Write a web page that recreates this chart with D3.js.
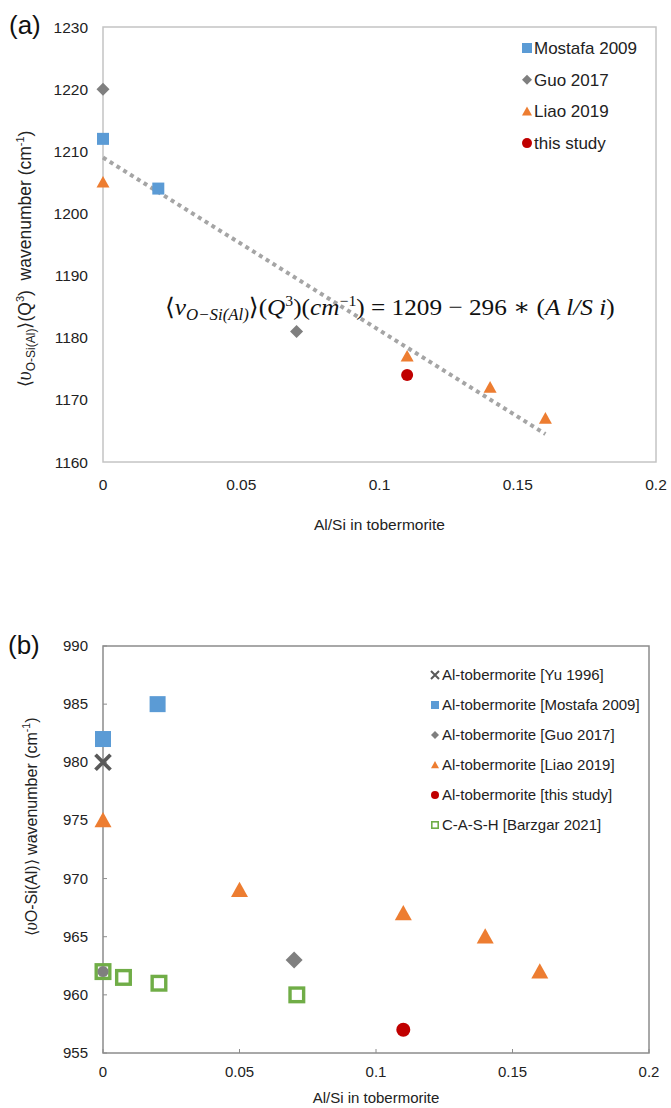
<!DOCTYPE html>
<html>
<head>
<meta charset="utf-8">
<script src="https://cdn.jsdelivr.net/npm/d3@7"></script>
<style>
  body { margin: 0; background: #fff; }
  svg { display: block; font-family: 'Liberation Sans', Arial, sans-serif; }
</style>
</head>
<body>
<svg id="chart" width="671" height="1108"></svg>
<script>
// ---- data, panel (a)
const aTicksX = [0, 0.05, 0.1, 0.15, 0.2]
const aTicksY = [1160, 1170, 1180, 1190, 1200, 1210, 1220, 1230]
const aMostafaX = [0, 0.02]
const aMostafaY = [1212, 1204]
const aGuoX = [0, 0.07]
const aGuoY = [1220, 1181]
const aLiaoX = [0, 0.11, 0.14, 0.16]
const aLiaoY = [1205, 1177, 1172, 1167]
const aThisX = [0.11]
const aThisY = [1174]
const aTrendX = [0, 0.16]
const aTrendY = [1209, 1164.5]

// ---- data, panel (b)
const bTicksX = [0, 0.05, 0.1, 0.15, 0.2]
const bTicksY = [955, 960, 965, 970, 975, 980, 985, 990]
const bYuX = [0]
const bYuY = [980]
const bMostafaX = [0, 0.02]
const bMostafaY = [982, 985]
const bGuoX = [0.07]
const bGuoY = [963]
const bGuoZeroX = [0]
const bGuoZeroY = [962]
const bLiaoX = [0, 0.05, 0.11, 0.14, 0.16]
const bLiaoY = [975, 969, 967, 965, 962]
const bThisX = [0.11]
const bThisY = [957]
const bBarzgarX = [0, 0.0075, 0.0205, 0.071]
const bBarzgarY = [962, 961.5, 961, 960]

const zip = (xs, ys) => xs.map((x, i) => ({ x: x, y: ys[i] }))
const fmtX = d => d === 0 ? '0' : String(+d.toFixed(2))

const svg = d3.select('#chart')

// marker drawing
const marker = function (g, kind, size, color) {
  if (kind === 'square') {
    g.append('rect').attr('x', -size / 2).attr('y', -size / 2)
      .attr('width', size).attr('height', size).attr('fill', color)
  } else if (kind === 'diamond') {
    let s = size / Math.SQRT2
    g.append('rect').attr('x', -s / 2).attr('y', -s / 2)
      .attr('width', s).attr('height', s).attr('fill', color)
      .attr('transform', 'rotate(45)')
  } else if (kind === 'triangle') {
    let h = size * 0.9
    g.append('path').attr('d', `M0,${-h * 0.55}L${size / 2},${h * 0.45}L${-size / 2},${h * 0.45}Z`)
      .attr('fill', color)
  } else if (kind === 'circle') {
    g.append('circle').attr('r', size / 2).attr('fill', color)
  } else if (kind === 'x') {
    let r = size / 2
    g.append('path').attr('d', `M${-r},${-r}L${r},${r}M${r},${-r}L${-r},${r}`)
      .attr('stroke', color).attr('stroke-width', size / 4).attr('fill', 'none')
  } else if (kind === 'open') {
    let sw = size / 5
    g.append('rect').attr('x', -(size - sw) / 2).attr('y', -(size - sw) / 2)
      .attr('width', size - sw).attr('height', size - sw)
      .attr('fill', '#fff').attr('stroke', color).attr('stroke-width', sw)
  }
}

const drawPoints = function (g, pts, x, y, kind, size, color) {
  g.selectAll(null).data(pts).enter().append('g')
    .attr('transform', d => `translate(${x(d.x)},${y(d.y)})`)
    .each(function () { marker(d3.select(this), kind, size, color) })
}

// ================= panel (a)
{
  const left = 103, right = 656, top = 27, bottom = 462
  const x = d3.scaleLinear().domain([0, 0.2]).range([left, right])
  const y = d3.scaleLinear().domain([1160, 1230]).range([bottom, top])
  const g = svg.append('g')

  g.append('rect').attr('x', left).attr('y', top)
    .attr('width', right - left).attr('height', bottom - top)
    .attr('fill', 'none').attr('stroke', '#c4c4c4').attr('stroke-width', 1.5)

  g.selectAll('.yt').data(aTicksY).enter().append('text')
    .attr('x', 88).attr('y', d => y(d) + 5.5)
    .attr('text-anchor', 'end').attr('font-size', 15.5).attr('fill', '#222')
    .text(d => d)
  g.selectAll('.xt').data(aTicksX).enter().append('text')
    .attr('x', d => x(d)).attr('y', 490)
    .attr('text-anchor', 'middle').attr('font-size', 15.5).attr('fill', '#222')
    .text(fmtX)

  g.append('text').attr('x', (left + right) / 2).attr('y', 530)
    .attr('text-anchor', 'middle').attr('font-size', 15.5).attr('fill', '#222')
    .text('Al/Si in tobermorite')

  g.append('text').attr('x', 9).attr('y', 34).attr('font-size', 26).attr('fill', '#111').text('(a)')

  // y label
  const yl = g.append('text').attr('transform', 'translate(31,259) rotate(-90)')
    .attr('text-anchor', 'middle').attr('font-size', 17.5).attr('fill', '#222')
  yl.append('tspan').text('\u27E8')
  yl.append('tspan').attr('font-family', 'Liberation Serif').attr('font-style', 'italic').attr('font-size', 20).text('\u03C5')
  yl.append('tspan').attr('font-size', 12).attr('dy', 4).text('O-Si(Al)')
  yl.append('tspan').attr('dy', -4).text('\u27E9(Q')
  yl.append('tspan').attr('font-size', 11).attr('dy', -7).text('3')
  yl.append('tspan').attr('dy', 7).text(')\u00A0\u00A0wavenumber (cm')
  yl.append('tspan').attr('font-size', 11).attr('dy', -7).text('-1')
  yl.append('tspan').attr('dy', 7).text(')')

  // trendline
  g.append('path')
    .datum(zip(aTrendX, aTrendY))
    .attr('d', d3.line().x(d => x(d.x)).y(d => y(d.y)))
    .attr('stroke', '#a5a5a5').attr('stroke-width', 4)
    .attr('stroke-dasharray', '4,4').attr('fill', 'none')

  drawPoints(g, zip(aGuoX, aGuoY), x, y, 'diamond', 13, '#7f7f7f')
  drawPoints(g, zip(aMostafaX, aMostafaY), x, y, 'square', 12, '#5b9bd5')
  drawPoints(g, zip(aLiaoX, aLiaoY), x, y, 'triangle', 13, '#ed7d31')
  drawPoints(g, zip(aThisX, aThisY), x, y, 'circle', 12, '#c00000')

  // equation
  const eq = g.append('text').attr('x', 165).attr('y', 315)
    .attr('font-family', 'Liberation Serif, DejaVu Serif, serif').attr('font-size', 24).attr('fill', '#111')
  const it = s => eq.append('tspan').attr('font-style', 'italic').text(s)
  eq.append('tspan').text('\u27E8')
  it('v')
  eq.append('tspan').attr('font-style', 'italic').attr('font-size', 16).attr('dy', 5).text('O\u2212Si(Al)')
  eq.append('tspan').attr('dy', -5).text('\u27E9(')
  it('Q')
  eq.append('tspan').attr('font-size', 15).attr('dy', -9).text('3')
  eq.append('tspan').attr('dy', 9).text(')(')
  it('cm')
  eq.append('tspan').attr('font-size', 15).attr('dy', -9).text('\u22121')
  eq.append('tspan').attr('dy', 9).text(') = 1209 \u2212 296 \u2217 (')
  it('A l/S i')
  eq.append('tspan').text(')')
  const L = eq.node().getComputedTextLength()
  eq.attr('transform', `translate(165,315) scale(${450 / L},1) translate(-165,-315)`)

  // legend
  const legA = [
    { label: 'Mostafa 2009', kind: 'square', size: 10, color: '#5b9bd5' },
    { label: 'Guo 2017', kind: 'diamond', size: 10, color: '#7f7f7f' },
    { label: 'Liao 2019', kind: 'triangle', size: 10, color: '#ed7d31' },
    { label: 'this study', kind: 'circle', size: 10, color: '#c00000' }
  ]
  const lg = g.selectAll('.la').data(legA).enter().append('g')
    .attr('transform', (d, i) => `translate(527,${48 + i * 31.7})`)
  lg.each(function (d) { marker(d3.select(this), d.kind, d.size, d.color) })
  lg.append('text').attr('x', 7).attr('y', 6).attr('font-size', 17).attr('fill', '#222').text(d => d.label)
}

// ================= panel (b)
{
  const left = 103, right = 649, top = 646, bottom = 1053
  const x = d3.scaleLinear().domain([0, 0.2]).range([left, right])
  const y = d3.scaleLinear().domain([955, 990]).range([bottom, top])
  const g = svg.append('g')

  g.append('rect').attr('x', left).attr('y', top)
    .attr('width', right - left).attr('height', bottom - top)
    .attr('fill', 'none').attr('stroke', '#8c8c8c').attr('stroke-width', 1.5)

  g.selectAll('.ytk').data(bTicksY).enter().append('line')
    .attr('x1', left).attr('x2', left + 4).attr('y1', d => y(d)).attr('y2', d => y(d))
    .attr('stroke', '#8c8c8c').attr('stroke-width', 1)
  g.selectAll('.xtk').data(bTicksX).enter().append('line')
    .attr('x1', d => x(d)).attr('x2', d => x(d)).attr('y1', bottom).attr('y2', bottom - 4)
    .attr('stroke', '#8c8c8c').attr('stroke-width', 1)

  g.selectAll('.yt').data(bTicksY).enter().append('text')
    .attr('x', 88).attr('y', d => y(d) + 5)
    .attr('text-anchor', 'end').attr('font-size', 15).attr('fill', '#222')
    .text(d => d)
  g.selectAll('.xt').data(bTicksX).enter().append('text')
    .attr('x', d => x(d)).attr('y', 1077)
    .attr('text-anchor', 'middle').attr('font-size', 15).attr('fill', '#222')
    .text(fmtX)

  g.append('text').attr('x', (left + right) / 2).attr('y', 1103)
    .attr('text-anchor', 'middle').attr('font-size', 15).attr('fill', '#222')
    .text('Al/Si in tobermorite')

  g.append('text').attr('x', 8).attr('y', 654).attr('font-size', 26).attr('fill', '#111').text('(b)')

  const yl = g.append('text').attr('transform', 'translate(37,827) rotate(-90)')
    .attr('text-anchor', 'middle').attr('font-size', 16).attr('fill', '#222')
  yl.append('tspan').text('\u27E8')
  yl.append('tspan').attr('font-family', 'Liberation Serif').attr('font-style', 'italic').attr('font-size', 18).text('\u03C5')
  yl.append('tspan').text('O-Si(Al)\u27E9 wavenumber (cm')
  yl.append('tspan').attr('font-size', 10.5).attr('dy', -7).text('-1')
  yl.append('tspan').attr('dy', 7).text(')')

  drawPoints(g, zip(bBarzgarX, bBarzgarY), x, y, 'open', 17, '#70ad47')
  drawPoints(g, zip(bGuoZeroX, bGuoZeroY), x, y, 'circle', 11, '#7f7f7f')
  drawPoints(g, zip(bGuoX, bGuoY), x, y, 'diamond', 17, '#7f7f7f')
  drawPoints(g, zip(bMostafaX, bMostafaY), x, y, 'square', 16, '#5b9bd5')
  drawPoints(g, zip(bYuX, bYuY), x, y, 'x', 15, '#595959')
  drawPoints(g, zip(bLiaoX, bLiaoY), x, y, 'triangle', 17, '#ed7d31')
  drawPoints(g, zip(bThisX, bThisY), x, y, 'circle', 14, '#c00000')

  const legB = [
    { label: 'Al-tobermorite [Yu 1996]', kind: 'x', size: 8, color: '#595959' },
    { label: 'Al-tobermorite [Mostafa 2009]', kind: 'square', size: 8, color: '#5b9bd5' },
    { label: 'Al-tobermorite [Guo 2017]', kind: 'diamond', size: 8, color: '#7f7f7f' },
    { label: 'Al-tobermorite [Liao 2019]', kind: 'triangle', size: 8, color: '#ed7d31' },
    { label: 'Al-tobermorite [this study]', kind: 'circle', size: 8, color: '#c00000' },
    { label: 'C-A-S-H [Barzgar 2021]', kind: 'open', size: 8, color: '#70ad47' }
  ]
  const lg = g.selectAll('.lb').data(legB).enter().append('g')
    .attr('transform', (d, i) => `translate(435,${675 + i * 30})`)
  lg.each(function (d) { marker(d3.select(this), d.kind, d.size, d.color) })
  lg.append('text').attr('x', 7).attr('y', 5).attr('font-size', 15).attr('fill', '#222').text(d => d.label)
}
</script>
</body>
</html>
